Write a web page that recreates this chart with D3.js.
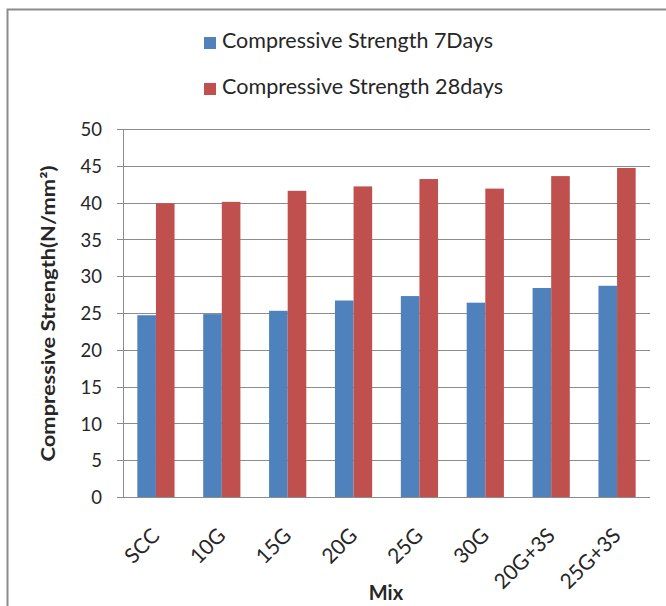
<!DOCTYPE html>
<html><head><meta charset="utf-8">
<script src="https://cdnjs.cloudflare.com/ajax/libs/d3/7.8.5/d3.min.js"></script>
<style>body{margin:0;background:#fff}svg{display:block}</style>
</head><body>
<script>
const categories = ["SCC","10G","15G","20G","25G","30G","20G+3S","25G+3S"];
const days7 = [24.7, 24.85, 25.3, 26.7, 27.3, 26.4, 28.4, 28.7];
const days28 = [39.9, 40.1, 41.6, 42.2, 43.2, 41.9, 43.6, 44.7];
const seriesNames = ["Compressive Strength 7Days","Compressive Strength 28days"];
const colors = ["#4F81BD","#C0504D"];
const yTicks = [0,5,10,15,20,25,30,35,40,45,50];

const W=666,H=606;
const svg=d3.select("body").append("svg").attr("width",W).attr("height",H);
const font="Lato, 'Open Sans', sans-serif";
const txt="#262626";
svg.append("rect").attr("x",0).attr("y",0).attr("width",W).attr("height",H).attr("fill","#fff");
// outer border
svg.append("path").attr("d",`M7.5,${H} L7.5,9.5 L${W},9.5`).attr("fill","none").attr("stroke","#8c8c8c").attr("stroke-width",2);

const m={l:123,r:650,t:129,b:497};
const x=d3.scaleBand().domain(categories).range([m.l,m.r]);
const y=d3.scaleLinear().domain([0,50]).range([m.b,m.t]);

// gridlines
svg.append("g").selectAll("line").data(yTicks).join("line")
 .attr("x1",m.l-6).attr("x2",m.r).attr("y1",d=>Math.round(y(d))+0.5).attr("y2",d=>Math.round(y(d))+0.5)
 .attr("stroke","#8c8c8c").attr("stroke-width",1);
// y axis line
svg.append("line").attr("x1",m.l+0.5).attr("x2",m.l+0.5).attr("y1",m.t).attr("y2",m.b).attr("stroke","#8c8c8c");

const yAxis=d3.axisLeft(y).tickValues(yTicks).tickSize(0).tickPadding(0);
const ga=svg.append("g").attr("transform",`translate(102,0)`).call(yAxis);
ga.select(".domain").remove();
ga.selectAll("text").attr("font-family",font).attr("font-size",18.5).attr("fill",txt).attr("dy","0.36em");

const bw=18.6;
const data=[days7,days28];
data.forEach((vals,si)=>{
  svg.append("g").selectAll("rect").data(vals).join("rect")
   .attr("x",(d,i)=>x(categories[i])+x.bandwidth()/2+(si-1)*bw)
   .attr("width",bw)
   .attr("y",d=>y(d)).attr("height",d=>y(0)-y(d))
   .attr("fill",colors[si]);
});

// x labels
const xAxis=d3.axisBottom(x).tickSize(0).tickPadding(0);
const gx=svg.append("g").attr("transform",`translate(0,${m.b})`).call(xAxis);
gx.select(".domain").remove();
gx.selectAll("text").attr("font-family",font).attr("font-size",21).attr("fill",txt)
  .attr("text-anchor","end").attr("y",0).attr("dy",0)
  .attr("transform","translate(5,40) rotate(-45)");

// axis titles
svg.append("text").attr("x",386).attr("y",600).attr("text-anchor","middle")
 .attr("font-family",font).attr("font-size",20).attr("font-weight","bold").attr("fill",txt).text("Mix");
svg.append("text").attr("transform","translate(55,313.5) rotate(-90)").attr("text-anchor","middle")
 .attr("font-family",font).attr("font-size",18).attr("font-weight","bold").attr("fill",txt)
 .attr("textLength",296).attr("lengthAdjust","spacingAndGlyphs")
 .text("Compressive Strength(N/mm²)");

// legend
const legW=[271,281];
seriesNames.forEach((n,i)=>{
  const base=48+i*46;
  svg.append("rect").attr("x",204).attr("y",base-11).attr("width",12).attr("height",12).attr("fill",colors[i]);
  svg.append("text").attr("x",222).attr("y",base).attr("font-family",font)
   .attr("font-size",22).attr("fill",txt)
   .attr("textLength",legW[i]).attr("lengthAdjust","spacingAndGlyphs").text(n);
});
</script>
</body></html>
